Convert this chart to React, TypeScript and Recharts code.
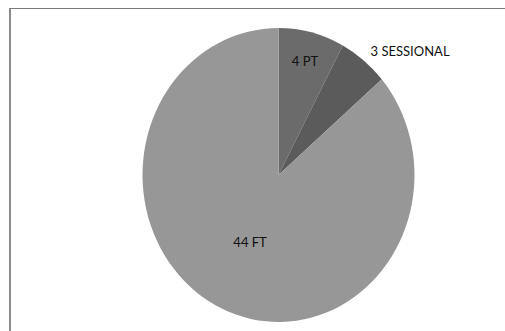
import React from "react";
import { PieChart, Pie, Cell } from "recharts";

// Staff counts by contract type
const categories: string[] = ["PT", "SESSIONAL", "FT"];
const counts: number[] = [4, 3, 44];
const sliceColors: string[] = ["#6b6b6b", "#5b5b5b", "#979797"];

// Label placement relative to the slice middle (fraction of radius, text anchor)
const labelRadius: Record<string, number> = { PT: 0.8, SESSIONAL: 1.08, FT: 0.5 };
const labelAnchor: Record<string, "start" | "middle" | "end"> = {
  PT: "middle",
  SESSIONAL: "start",
  FT: "middle",
};

const data = categories.map((name, i) => ({ name, value: counts[i] }));

const WIDTH = 505;
const HEIGHT = 331;
const CX = 278.5;
const CY = 175;
const RX = 136;
const RY = 147;
const RAD = Math.PI / 180;

const pt = (cx: number, cy: number, rx: number, ry: number, deg: number) => [
  cx + rx * Math.cos(deg * RAD),
  cy - ry * Math.sin(deg * RAD),
];

// Sector drawn on an ellipse (the pie is slightly taller than wide)
const EllipseSector = (props: any) => {
  const { cx, cy, outerRadius, startAngle, endAngle, fill } = props;
  const rx = outerRadius;
  const ry = outerRadius * (RY / RX);
  const [x0, y0] = pt(cx, cy, rx, ry, startAngle);
  const [x1, y1] = pt(cx, cy, rx, ry, endAngle);
  const sweep = Math.abs(endAngle - startAngle);
  const large = sweep > 180 ? 1 : 0;
  const dirFlag = endAngle < startAngle ? 1 : 0;
  const d = `M${cx},${cy} L${x0},${y0} A${rx},${ry} 0 ${large} ${dirFlag} ${x1},${y1} Z`;
  return <path d={d} fill={fill} stroke="none" />;
};

const renderLabel = (props: any) => {
  const { cx, cy, midAngle, outerRadius, name, value } = props;
  const k = labelRadius[name] ?? 0.6;
  const rx = outerRadius * k;
  const ry = outerRadius * (RY / RX) * k;
  const [x, y] = pt(cx, cy, rx, ry, midAngle);
  return (
    <text
      x={x}
      y={y}
      textAnchor={labelAnchor[name] ?? "middle"}
      dominantBaseline="central"
      fontFamily="Lato, 'Noto Sans', sans-serif"
      fontSize={13}
      fill="#111111"
    >
      {`${value} ${name}`}
    </text>
  );
};

export default function App() {
  return (
    <div
      style={{
        position: "absolute",
        left: 0,
        top: 0,
        width: WIDTH,
        height: HEIGHT,
        background: "#ffffff",
      }}
    >
      <div
        style={{
          position: "absolute",
          left: 9,
          top: 8,
          right: 0,
          bottom: 0,
          borderTop: "1px solid #7a7a7a",
          borderLeft: "2px solid #8a8a8a",
        }}
      />
      <PieChart
        width={WIDTH}
        height={HEIGHT}
        margin={{ top: 0, right: 0, bottom: 0, left: 0 }}
        style={{ position: "absolute", left: 0, top: 0 }}
      >
        <Pie
          data={data}
          dataKey="value"
          nameKey="name"
          cx={CX}
          cy={CY}
          outerRadius={RX}
          startAngle={90}
          endAngle={-270}
          stroke="none"
          shape={EllipseSector}
          label={renderLabel}
          labelLine={false}
          isAnimationActive={false}
        >
          {data.map((d, i) => (
            <Cell key={d.name} fill={sliceColors[i]} />
          ))}
        </Pie>
      </PieChart>
    </div>
  );
}
